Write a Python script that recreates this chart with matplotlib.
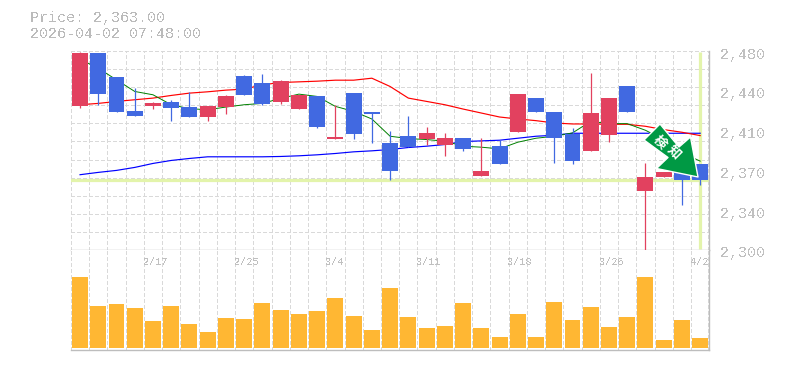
#!/usr/bin/env python3

import matplotlib
matplotlib.use("Agg")
import matplotlib.pyplot as plt
from matplotlib.patches import Polygon

plt.rcParams['font.family'] = ['Liberation Mono', 'DejaVu Sans Mono']
plt.rcParams['text.antialiased'] = False
plt.rcParams['lines.scale_dashes'] = False

# candle values
opens = [2430.5, 2478.2, 2456.6, 2426.0, 2430.5, 2434.1, 2429.6, 2420.6, 2429.6, 2457.5, 2451.2, 2434.1,
         2427.8, 2439.5, 2400.8, 2442.2, 2425.1, 2397.2, 2403.5, 2400.8, 2395.4, 2401.7, 2366.6, 2394.5,
         2407.1, 2437.7, 2425.1, 2405.3, 2389.1, 2404.4, 2448.5, 2353.1, 2365.7, 2371.0, 2377.4]
closes = [2478.2, 2441.3, 2425.1, 2421.5, 2433.2, 2428.7, 2420.6, 2430.5, 2439.5, 2440.4, 2432.3, 2453.0,
          2440.4, 2411.6, 2402.6, 2405.3, 2423.3, 2371.1, 2393.6, 2406.2, 2401.7, 2391.8, 2371.1, 2377.4,
          2441.3, 2425.1, 2401.7, 2380.1, 2424.2, 2437.7, 2425.1, 2365.7, 2371.0, 2363.0, 2363.0]
highs = [2479.1, 2478.2, 2456.6, 2446.7, 2434.1, 2435.9, 2442.5, 2430.5, 2440.4, 2458.4, 2459.3, 2453.9,
         2440.4, 2439.5, 2431.4, 2442.2, 2425.1, 2408.0, 2421.5, 2411.6, 2406.2, 2401.7, 2401.7, 2399.9,
         2441.3, 2437.7, 2425.1, 2410.7, 2460.2, 2437.7, 2448.5, 2378.3, 2371.0, 2371.0, 2377.4]
lows = [2428.7, 2431.4, 2425.1, 2421.5, 2427.8, 2417.0, 2420.6, 2417.0, 2423.3, 2440.4, 2431.4, 2432.3,
        2427.8, 2410.7, 2400.8, 2400.8, 2397.2, 2363.0, 2393.6, 2395.4, 2384.6, 2390.0, 2366.6, 2377.4,
        2407.1, 2425.1, 2378.3, 2377.4, 2389.1, 2398.1, 2425.1, 2300.0, 2365.7, 2340.5, 2358.5]

ma_short = [2472.5, 2464.4, 2453.9, 2443.4, 2440.4, 2431.4, 2427.8, 2426.9, 2429.3, 2431.4, 2432.6, 2437.1,
            2441.0, 2438.9, 2429.9, 2425.4, 2418.5, 2402.9, 2400.8, 2399.9, 2398.4, 2393.9, 2393.0, 2391.5,
            2397.5, 2401.1, 2402.9, 2405.9, 2416.4, 2414.3, 2414.3, 2408.3, 2399.9, 2387.9, 2380.4]
ma_mid = [2431.4, 2432.6, 2434.4, 2435.9, 2437.4, 2439.8, 2441.9, 2443.1, 2444.6, 2445.5, 2449.4, 2451.5,
          2452.1, 2452.7, 2453.6, 2453.6, 2455.4, 2447.9, 2437.4, 2434.4, 2431.4, 2427.5, 2423.9, 2420.3,
          2418.5, 2417.0, 2414.9, 2414.0, 2414.0, 2413.7, 2413.7, 2411.9, 2408.9, 2406.5, 2403.5]
ma_long = [2368.1, 2370.2, 2372.0, 2374.7, 2378.3, 2381.0, 2382.8, 2384.3, 2384.3, 2384.3, 2384.3, 2384.6,
           2385.2, 2386.1, 2387.3, 2388.8, 2389.7, 2390.9, 2392.7, 2393.9, 2395.4, 2398.1, 2398.7, 2399.3,
           2401.1, 2402.9, 2403.8, 2405.6, 2405.6, 2405.6, 2405.6, 2405.6, 2405.6, 2405.6, 2405.6]

volumes = [213, 126, 132, 120, 81, 126, 72, 48, 90, 87, 135, 114, 102, 111, 150, 96, 54, 180,
           93, 60, 66, 135, 60, 33, 102, 33, 138, 84, 123, 63, 93, 213, 24, 84, 30]

price_ticks = [2480, 2444, 2408, 2372, 2336, 2300]
price_labels = ["2,480", "2,440", "2,410", "2,370", "2,340", "2,300"]
date_pos = [4, 9, 14, 19, 24, 29, 34]
date_labels = ["2/17", "2/25", "3/4", "3/11", "3/18", "3/26", "4/2"]

last_price = 2363.5

RED = "#e2415f"
BLUE = "#4169e1"
ORANGE = "#ffb733"
GRID = "#d9d9d9"
AXIS = "#bdbdbd"
TEXT = "#c0c0c0"
MARK = "#e3f4ab"
W, H = 785, 370
DASH = (0, (2.2, 1.6))

n = len(opens)
xs = list(range(n))


def box(top, bottom):
    return [70.9 / W, 1 - bottom / H, 638.4 / W, (bottom - top) / H]


def style_axes(ax):
    ax.set_xlim(-0.5, n - 0.5)
    ax.set_xticks([x - 0.5 for x in xs] + [n - 0.55])
    ax.set_xticklabels([])
    ax.tick_params(length=0, labelleft=False, labelbottom=False)
    ax.set_axisbelow(True)
    ax.grid(True, color=GRID, lw=0.72, ls=DASH, antialiased=False)
    for side in ["left", "top"]:
        ax.spines[side].set_visible(False)
    for side in ["right", "bottom"]:
        ax.spines[side].set_color(AXIS)
        ax.spines[side].set_linewidth(1.0)


fig = plt.figure(figsize=(W / 100, H / 100), dpi=100)
ax = fig.add_axes(box(51, 250))
vol = fig.add_axes(box(250, 350))
style_axes(ax)
style_axes(vol)

# price panel
ax.set_ylim(2300, 2480)
ax.set_yticks([2480 - i * 180 / 11 for i in range(12)])

ax.axhline(last_price, color=MARK, lw=2.3, zorder=1.5)
ax.plot([n - 1, n - 1], [2301, 2479], color=MARK, lw=2.3, zorder=1.5, solid_capstyle="butt")

ax.plot(xs, ma_long, color="#0000ff", lw=0.85, zorder=2)
ax.plot(xs, ma_mid, color="#ff0000", lw=0.85, zorder=2)
ax.plot(xs, ma_short, color="#008000", lw=0.7, zorder=2)

colors = [RED if c >= o else BLUE for o, c in zip(opens, closes)]
ax.vlines(xs, lows, highs, colors=colors, lw=0.9, zorder=3)
ax.bar(xs, [abs(c - o) for o, c in zip(opens, closes)], bottom=[min(o, c) for o, c in zip(opens, closes)],
       width=0.875, color=colors, zorder=4)

for val, lab in zip(price_ticks, price_labels):
    ax.annotate(lab, (1, val), xycoords=("axes fraction", "data"), xytext=(11, -3.5), textcoords="offset pixels",
                ha="left", va="center", fontsize=10.8, color=TEXT, annotation_clip=False)

# volume panel
vol.set_ylim(-6, 294)
vol.set_yticks([])
vol.bar(xs, volumes, width=0.875, color=ORANGE, zorder=3)
for pos, lab in zip(date_pos, date_labels):
    vol.annotate(lab, (pos - 0.5, 1), xycoords=("data", "axes fraction"), xytext=(-1, -12), textcoords="offset pixels",
                 ha="left", va="center", fontsize=7.4, color=TEXT, zorder=5)

# header and the arrow badge, placed in pixels
over = fig.add_axes([0, 0, 1, 1], zorder=10)
over.set_xlim(0, W)
over.set_ylim(H, 0)
over.axis("off")
over.patch.set_alpha(0)

over.text(30, 18, "Price: 2,363.00", fontsize=10.8, color="#bbbbbb", ha="left", va="center")
over.text(30, 33.5, "2026-04-02 07:48:00", fontsize=10.8, color="#bbbbbb", ha="left", va="center")

arrow_pts = [(660, 124), (679, 147), (690.5, 137), (698, 177), (656.5, 168.5), (668, 157.5), (644, 140)]
over.add_patch(Polygon(arrow_pts, closed=True, facecolor="#009944", edgecolor="white", lw=1.0, joinstyle="round"))
for x, y, ch in [(660, 142, "検"), (674, 152, "知")]:
    over.text(x, y, ch, family=["Noto Sans CJK JP"], fontsize=9.5, fontweight="bold", color="white",
              rotation=-45, rotation_mode="anchor", ha="center", va="center", antialiased=True)

fig.savefig("out.png", dpi=100)
